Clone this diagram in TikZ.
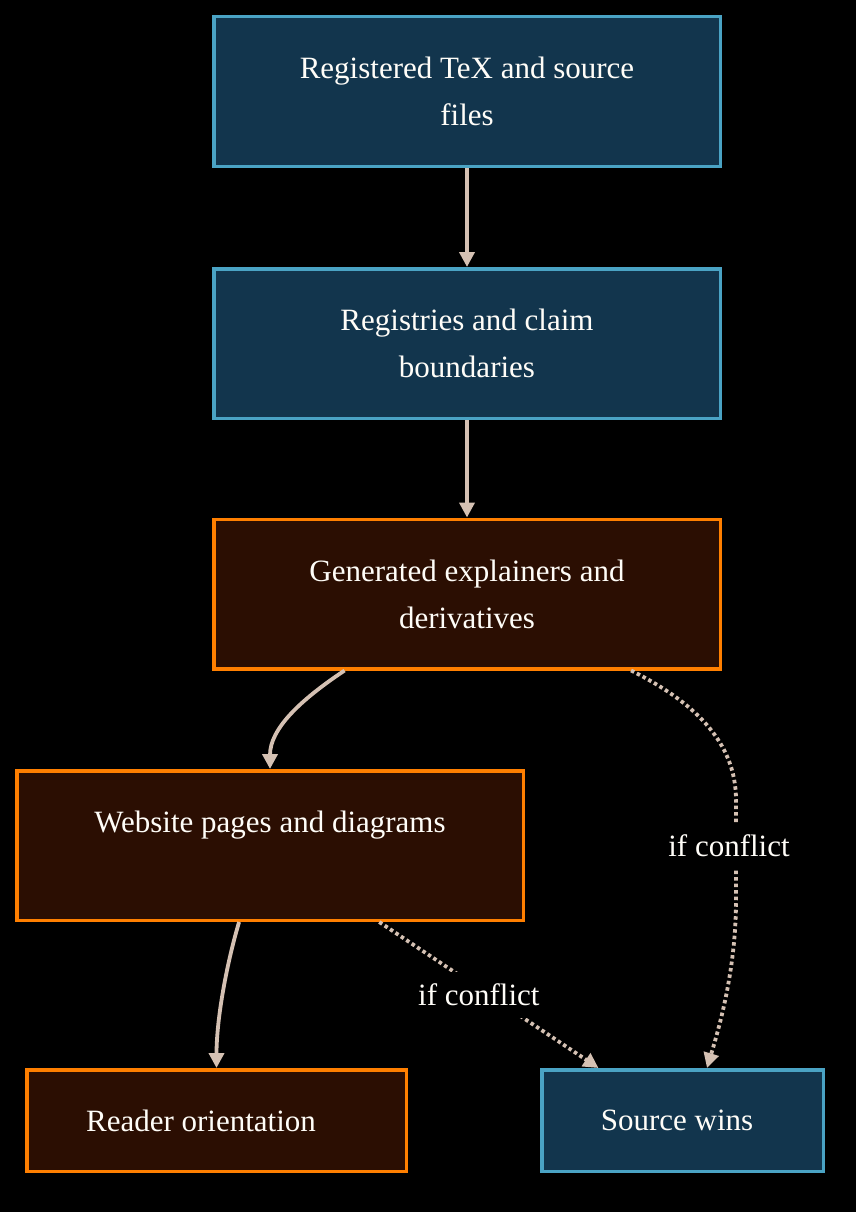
\documentclass[tikz,border=0pt]{standalone}
\usepackage{fontspec}
\setmainfont{Liberation Serif}
\usetikzlibrary{arrows.meta}
\definecolor{bluefill}{HTML}{12354D}
\definecolor{blueline}{HTML}{4AA3C4}
\definecolor{orfill}{HTML}{2B0E02}
\definecolor{orline}{HTML}{FF7F00}
\definecolor{edgec}{HTML}{D5C1B3}
\definecolor{txt}{HTML}{FFFDF8}
\begin{document}
\begin{tikzpicture}[x=1pt,y=-1pt,
  box/.style={draw, line width=3.5pt, minimum width=506.5pt, minimum height=149.5pt,
    text=txt, align=center, font=\fontsize{31}{47}\selectfont, inner sep=0pt},
  bluebox/.style={box, fill=bluefill, draw=blueline},
  orbox/.style={box, fill=orfill, draw=orline},
  arr/.style={draw=edgec, line width=3.8pt, -{Triangle[length=15pt,width=15pt]}},
  dotarr/.style={arr, dash pattern=on 3.5pt off 3pt},
  lbl/.style={fill=black, text=txt, font=\fontsize{31}{47}\selectfont,
    inner xsep=1pt, inner ysep=12pt}
]
\useasboundingbox (0,0) rectangle (856,1212);
\fill[black] (0,0) rectangle (856,1212);

\node[bluebox] (n1) at (467,91.5) {Registered TeX and source\\files};
\node[bluebox] (n2) at (467,343.5) {Registries and claim\\boundaries};
\node[orbox] (n3) at (467,594) {Generated explainers and\\derivatives};
\node[orbox] (n4) at (270,845.5) {Website pages and diagrams\\\mbox{}};
\node[orbox, minimum width=379.5pt, minimum height=101.5pt, align=left] (n5) at (216.5,1120.5) {Reader orientation\hspace*{31pt}};
\node[bluebox, minimum width=281.5pt, minimum height=101.5pt, align=left] (n6) at (682.5,1120.5) {Source wins\hspace*{11pt}};

\draw[arr] (n1) -- (n2);
\draw[arr] (n2) -- (n3);
\draw[arr] (n3.212) .. controls +(-45,30) and +(0,-40) .. (n4.north);
\draw[arr] (n4.248.6) .. controls +(-12,40) and +(0,-50) .. (n5.north);
\draw[dotarr] (n4.325) -- (n6.148) node[lbl, pos=0.5, xshift=-10pt] (l1) {if conflict};
\draw[dotarr] (n3.335) .. controls +(60,30) and +(0,-60) .. (736,800)
  -- (736,900) node[lbl, pos=0.46, xshift=-7pt] (l2) {if conflict}
  .. controls +(0,70) and +(12,-40) .. (n6.65);
\end{tikzpicture}
\end{document}
